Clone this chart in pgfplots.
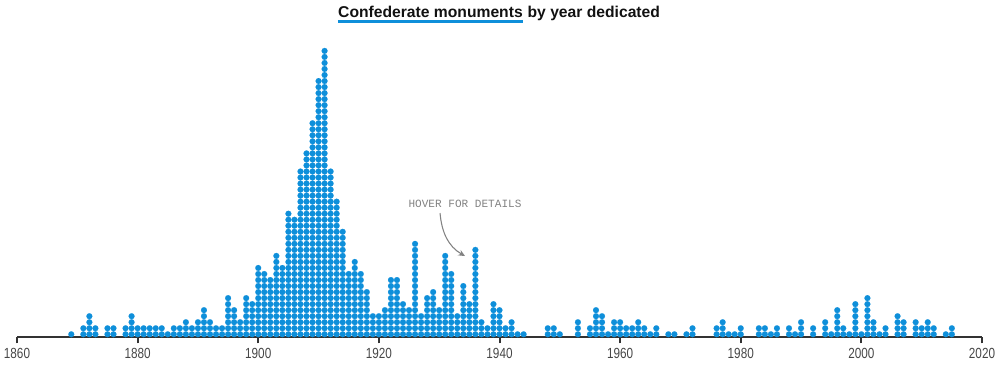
\documentclass[border=0pt]{standalone}
\usepackage{pgfplots}
\pgfplotsset{compat=1.18}
\usepackage{pgfplotstable}
\usetikzlibrary{arrows.meta}
\usepackage{fontspec}
\setmainfont{Liberation Sans}
\newfontfamily\tickfont[FakeStretch=0.8]{Liberation Sans}
\newfontfamily\notefont{Liberation Mono}
\definecolor{dotblue}{RGB}{14,143,218}
\definecolor{axisgray}{RGB}{51,51,51}
\definecolor{ticktext}{RGB}{70,70,70}
\definecolor{notegray}{RGB}{130,130,130}
\definecolor{titleblack}{RGB}{17,17,17}

\pgfplotstableread{
year n
1869 1
1871 2
1872 4
1873 2
1875 2
1876 2
1878 2
1879 4
1880 2
1881 2
1882 2
1883 2
1884 2
1885 1
1886 2
1887 2
1888 3
1889 2
1890 3
1891 5
1892 3
1893 2
1894 2
1895 7
1896 5
1897 3
1898 7
1899 6
1900 12
1901 11
1902 10
1903 14
1904 12
1905 21
1906 20
1907 28
1908 31
1909 36
1910 43
1911 48
1912 28
1913 23
1914 18
1915 11
1916 13
1917 11
1918 8
1919 4
1920 4
1921 5
1922 10
1923 10
1924 6
1925 5
1926 16
1927 4
1928 7
1929 8
1930 5
1931 14
1932 11
1933 4
1934 9
1935 6
1936 15
1937 3
1938 2
1939 6
1940 5
1941 2
1942 3
1943 1
1944 1
1948 2
1949 2
1950 1
1953 3
1955 2
1956 5
1957 4
1958 1
1959 3
1960 3
1961 2
1962 2
1963 3
1964 2
1965 1
1966 2
1968 1
1969 1
1971 1
1972 2
1976 2
1977 3
1978 1
1979 1
1980 2
1983 2
1984 2
1985 1
1986 2
1988 2
1989 1
1990 3
1992 2
1994 3
1995 1
1996 5
1997 2
1998 1
1999 6
2000 1
2001 7
2002 3
2003 1
2004 2
2006 4
2007 3
2009 3
2010 2
2011 3
2012 2
2014 1
2015 2
}\monuments

\begin{document}
\begin{tikzpicture}
\begin{axis}[
  at={(0,0)}, anchor=south west,
  scale only axis, width=723.75pt, height=252.975pt,
  xmin=1860, xmax=2020, ymin=0.5, ymax=56.44,
  axis x line=bottom, axis y line=none,
  x axis line style={-, line width=1.6pt, color=axisgray},
  xtick={1860,1880,...,2020},
  xticklabels={1860,1880,1900,1920,1940,1960,1980,2000,2020},
  xticklabel style={font=\tickfont\fontsize{11pt}{13pt}\selectfont, text=ticktext},
  tick align=outside, major tick length=4.5pt,
  tick style={line width=1.5pt, color=axisgray},
  clip=false,
  unbounded coords=discard,
]
\pgfplotsinvokeforeach{1,...,48}{
  \addplot[only marks, mark=*, mark size=2.2pt,
    mark options={draw=dotblue, fill=dotblue, line width=0.1pt}]
    table[x=year, y expr={\thisrow{n}>=#1 ? #1 : nan}] {\monuments};
}
\node[font=\notefont\fontsize{8.3pt}{10pt}\selectfont, text=notegray]
  at (axis cs:1934.28,22.61) {HOVER FOR DETAILS};
\draw[notegray, line width=0.8pt, -{Stealth[length=5pt,width=4.5pt]}]
  (axis cs:1930.14,21.11) to[out=-85, in=150] (axis cs:1934.28,13.98);
\node[anchor=base east, inner sep=0pt, font=\bfseries\fontsize{11.75pt}{14pt}\selectfont, text=titleblack]
  (T1) at (axis cs:1943.90,53.57) {Confederate monuments};
\node[anchor=base west, inner sep=0pt, font=\bfseries\fontsize{11.75pt}{14pt}\selectfont, text=titleblack]
  at (T1.base east) {\ by year dedicated};
\draw[dotblue, line width=2.5pt] ([yshift=-3pt]T1.base west) -- ([yshift=-3pt]T1.base east);
\end{axis}
\pgfresetboundingbox
\path[use as bounding box] (-12.75pt,-20.775pt) rectangle (737.25pt,252.975pt);
\end{tikzpicture}
\end{document}
